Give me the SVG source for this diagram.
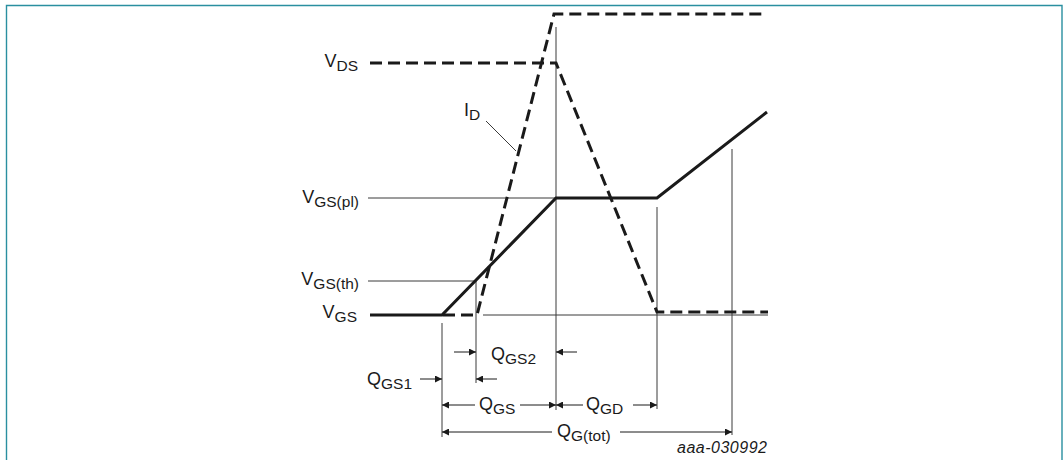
<svg xmlns="http://www.w3.org/2000/svg" width="1063" height="460" viewBox="0 0 1063 460">
<defs>
<marker id="ah" viewBox="0 0 10 10" refX="10" refY="5" markerWidth="11" markerHeight="7" markerUnits="userSpaceOnUse" orient="auto">
<path d="M0,0 L10,5 L0,10 Z" fill="#1a1a1a"/>
</marker>
</defs>
<style>
.frame{fill:none;stroke:#2a8fa0;stroke-width:1.4}
.thin{fill:none;stroke:#3a3a3a;stroke-width:1}
.thick{fill:none;stroke:#1a1a1a;stroke-width:3;stroke-linejoin:miter}
.dash{fill:none;stroke:#1a1a1a;stroke-width:3;stroke-dasharray:12 6}
.arr{fill:none;stroke:#1a1a1a;stroke-width:1;marker-end:url(#ah)}
text{font-family:"Liberation Sans",Arial,sans-serif;font-size:18px;fill:#1a1a1a}
.sub{font-size:15.5px}
.code{font-size:16px;font-style:italic}
</style>
<rect width="1063" height="460" fill="#ffffff"/>
<path class="frame" d="M6.5,460 V5.5 H1062 V460"/>

<g id="guides">
<line class="thin" x1="368" y1="198" x2="556" y2="198"/>
<line class="thin" x1="368" y1="281" x2="476" y2="281"/>
<line class="thin" x1="483" y1="315" x2="768" y2="315"/>
<line class="thin" x1="556" y1="27" x2="556" y2="410"/>
<line class="thin" x1="442" y1="323" x2="442" y2="437"/>
<line class="thin" x1="476" y1="281" x2="476" y2="383"/>
<line class="thin" x1="657" y1="207" x2="657" y2="409"/>
<line class="thin" x1="732" y1="149" x2="732" y2="435"/>
<line class="thin" x1="486" y1="121" x2="516" y2="151"/>
</g>

<g id="curves">
<path id="vgs" class="thick" d="M370,315 H442 L556,198 H657 L767,112"/>
<path id="id" class="dash" d="M443,315 H477 L554,14 H762"/>
<path id="vds" class="dash" d="M370,63 H556 L657,312 H768"/>
</g>

<g id="dimensions">
<line class="arr" x1="454" y1="352" x2="476" y2="352"/>
<line class="arr" x1="577" y1="352" x2="556" y2="352"/>
<line class="arr" x1="420" y1="379" x2="442" y2="379"/>
<line class="arr" x1="497" y1="379" x2="476" y2="379"/>
<line class="arr" x1="475" y1="405" x2="442" y2="405"/>
<line class="arr" x1="520" y1="405" x2="556" y2="405"/>
<line class="arr" x1="583" y1="405" x2="556" y2="405"/>
<line class="arr" x1="633" y1="405" x2="657" y2="405"/>
<line class="arr" x1="552" y1="432" x2="442" y2="432"/>
<line class="arr" x1="620" y1="432" x2="732" y2="432"/>
</g>

<g id="labels">
<text x="358" y="67" text-anchor="end">V<tspan class="sub" dy="3.5">DS</tspan></text>
<text x="464" y="116">I<tspan class="sub" dy="3.5">D</tspan></text>
<text x="359" y="203" text-anchor="end">V<tspan class="sub" dy="3.5">GS(pl)</tspan></text>
<text x="359" y="285" text-anchor="end">V<tspan class="sub" dy="3.5">GS(th)</tspan></text>
<text x="357" y="318" text-anchor="end">V<tspan class="sub" dy="3.5">GS</tspan></text>
<text x="491" y="360">Q<tspan class="sub" dy="3.5">GS2</tspan></text>
<text x="367" y="385">Q<tspan class="sub" dy="3.5">GS1</tspan></text>
<text x="479" y="410">Q<tspan class="sub" dy="3.5">GS</tspan></text>
<text x="586" y="410">Q<tspan class="sub" dy="3.5">GD</tspan></text>
<text x="557" y="437">Q<tspan class="sub" dy="3.5">G(tot)</tspan></text>
<text class="code" x="677" y="453" textLength="90">aaa-030992</text>
</g>
</svg>
